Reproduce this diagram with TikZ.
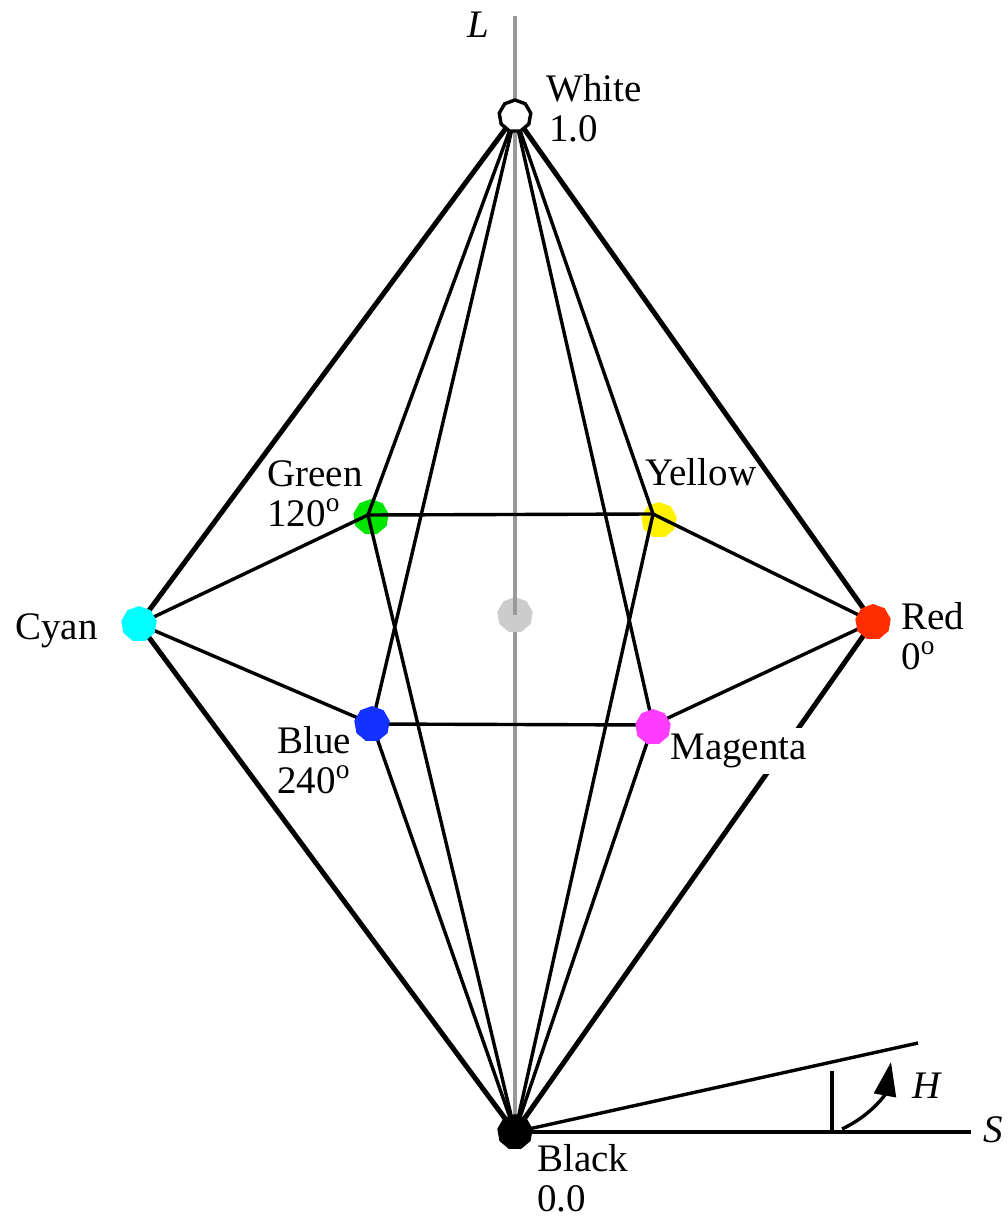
\documentclass[tikz,border=0pt]{standalone}
\usepackage{fontspec}
\setmainfont{Liberation Serif}
\usetikzlibrary{shapes.geometric,arrows.meta}
\definecolor{dotcyan}{RGB}{0,255,255}
\definecolor{dotred}{RGB}{255,45,0}
\definecolor{dotblue}{RGB}{20,50,255}
\definecolor{dotmagenta}{RGB}{255,60,255}
\definecolor{dotgreen}{RGB}{0,230,0}
\tikzset{
  dot/.style={regular polygon,regular polygon sides=9,minimum size=18pt,inner sep=0pt,draw=none},
  lbl/.style={inner sep=0pt,align=left,anchor=west},
  thickline/.style={line width=2.5pt,black},
  thinline/.style={line width=1.7pt,black}
}
\begin{document}
\begin{tikzpicture}[x=0.5pt,y=-0.5pt,every node/.style={font=\fontsize{19.5}{19.8}\selectfont}]
\useasboundingbox (0,0) rectangle (1007,1218);
\coordinate (lt) at (515,16);
\coordinate (lm) at (515,615);
\coordinate (vw) at (515,116);
\coordinate (vk) at (515,1132);
\coordinate (vc) at (139,624);
\coordinate (vr) at (873,622);
\coordinate (vg) at (368,515);
\coordinate (vy) at (653,514);
\coordinate (vb) at (372,724);
\coordinate (vm) at (653,725);
\coordinate (se) at (971,1132);
\coordinate (he) at (918,1043);
\coordinate (tt) at (832,1071);
\coordinate (tb) at (832,1132);
\coordinate (as) at (842,1129);
\coordinate (ae) at (891,1062);
\draw[line width=1.6pt,black!40] (lt) -- (vk);
\node[dot,fill=black!20] (gray) at (515,615) {};
\draw[line width=1.6pt,black!40] (lm) -- (vw);
\node[dot,fill=dotgreen] (green) at (371,517) {};
\node[dot,fill=yellow] (yellow) at (659,520) {};
\draw[thickline] (vw) -- (vc);
\draw[thickline] (vw) -- (vr);
\draw[thickline] (vk) -- (vc);
\draw[thickline] (vk) -- (vr);
\draw[thinline] (vw) -- (vg);
\draw[thinline] (vw) -- (vy);
\draw[thinline] (vw) -- (vb);
\draw[thinline] (vw) -- (vm);
\draw[thinline] (vk) -- (vg);
\draw[thinline] (vk) -- (vy);
\draw[thinline] (vk) -- (vb);
\draw[thinline] (vk) -- (vm);
\draw[thinline] (vc) -- (vg);
\draw[thinline] (vg) -- (vy);
\draw[thinline] (vy) -- (vr);
\draw[thinline] (vr) -- (vm);
\draw[thinline] (vm) -- (vb);
\draw[thinline] (vb) -- (vc);
\node[dot,fill=white,draw=black,line width=1.7pt,minimum size=16pt] (white) at (515,116) {};
\node[dot,fill=black] (black) at (515,1132) {};
\node[dot,fill=dotcyan] (cyan) at (139,624) {};
\node[dot,fill=dotred] (red) at (873,622) {};
\node[dot,fill=dotblue] (blue) at (372,724) {};
\node[lbl,fill=white,inner ysep=3pt] (lmagenta) at (670,751) {Magenta};
\node[dot,fill=dotmagenta] (magenta) at (653,727) {};
\draw[thinline] (vk) -- (se);
\draw[thinline] (vk) -- (he);
\draw[thinline] (tt) -- (tb);
\draw[-{Triangle[length=17pt,width=11pt]},thinline] (as) .. controls (870,1116) and (885,1095) .. (ae);
\node[lbl] (lwhite) at (546,108) {White\\\hspace{1.5pt}1.0};
\node[lbl] (lgreen) at (267,494) {Green\\120\textsuperscript{o}};
\node[lbl] (lyellow) at (645,472) {Yellow};
\node[lbl] (lcyan) at (15,631) {Cyan};
\node[lbl] (lred) at (901,636) {Red\\0\textsuperscript{o}};
\node[lbl] (lblue) at (277,760) {Blue\\240\textsuperscript{o}};
\node[lbl] (lblack) at (537,1178) {Black\\0.0};
\node[lbl] (laxisl) at (467,25) {\textit{L}};
\node[lbl] (laxiss) at (983,1130) {\textit{S}};
\node[lbl] (laxish) at (912,1086) {\textit{H}};
\end{tikzpicture}
\end{document}
